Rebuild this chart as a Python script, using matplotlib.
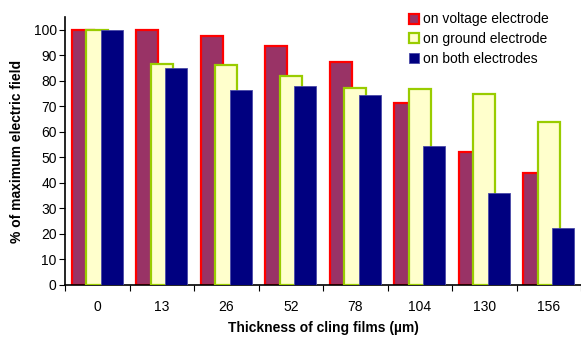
import numpy as np
import matplotlib.pyplot as plt

plt.rcParams['font.family'] = ['Liberation Sans', 'DejaVu Sans']

thickness = ['0', '13', '26', '52', '78', '104', '130', '156']
voltage = [100, 100, 97.8, 93.7, 87.3, 71.4, 52.3, 44.0]
ground = [100, 86.5, 86.2, 82.0, 77.1, 77.0, 74.8, 64.0]
both = [100, 85.0, 76.5, 78.0, 74.5, 54.6, 36.2, 22.5]

series = [
    ('on voltage electrode', voltage, '#993366', '#ff0000', 1.6),
    ('on ground electrode', ground, '#ffffcc', '#99cc00', 1.6),
    ('on both electrodes', both, '#000080', '#4a4aa8', 0.6),
]

fig = plt.figure(figsize=(5.81, 3.38), dpi=100)
ax = fig.add_axes([0.112, 0.157, 0.888, 0.792])

x = np.arange(len(thickness)) + 0.5
step, width = 0.224, 0.34
for i, (name, vals, fc, ec, lw) in enumerate(series):
    ax.bar(x + (i - 1) * step, vals, width=width, color=fc, edgecolor=ec,
           linewidth=lw, label=name, zorder=2 + i)

ax.set_xlim(0, len(thickness))
ax.set_ylim(0, 105)
ax.set_yticks(range(0, 101, 10))

# group boundaries carry the tick marks, centres carry the labels
ax.set_xticks(np.arange(len(thickness) + 1))
ax.set_xticklabels([])
ax.set_xticks(x, minor=True)
ax.set_xticklabels(thickness, minor=True)
ax.tick_params(axis='x', which='minor', length=0, pad=11, labelsize=10)
ax.tick_params(axis='x', which='major', direction='out', length=4)
ax.tick_params(axis='y', direction='out', length=4, labelsize=10, pad=2)

for side in ('top', 'right'):
    ax.spines[side].set_visible(False)
ax.spines['left'].set_linewidth(1.2)
ax.spines['bottom'].set_linewidth(1.2)

ax.set_xlabel('Thickness of cling films (µm)', fontsize=10, fontweight='bold',
              labelpad=5)
ax.set_ylabel('% of maximum electric field', fontsize=10, fontweight='bold',
              labelpad=7)

ax.legend(loc='upper left', bbox_to_anchor=(0.682, 1.0),
          bbox_transform=fig.transFigure, frameon=False,
          fontsize=10, handlelength=0.75, handleheight=0.75, handletextpad=0.25,
          labelspacing=0.4)

fig.savefig('out.png', dpi=100)
